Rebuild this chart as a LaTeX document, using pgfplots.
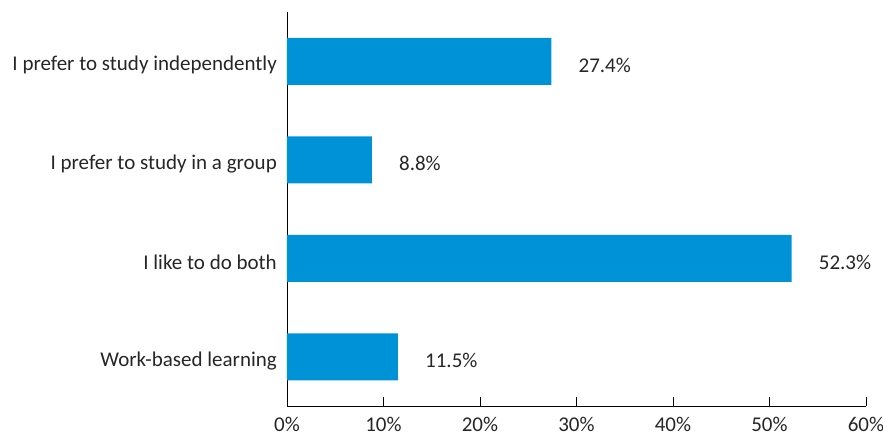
\documentclass[border=0pt]{standalone}
\usepackage{pgfplots}
\pgfplotsset{compat=1.18}
\usepackage{fontspec}
\setmainfont{Carlito}
\definecolor{barblue}{RGB}{0,146,214}
\definecolor{txt}{RGB}{38,38,38}
\begin{document}
\fontsize{21}{25}\selectfont
\begin{tikzpicture}
\useasboundingbox (-287pt,-29pt) rectangle (596pt,406pt);
\begin{axis}[
  scale only axis,
  width=579pt, height=394pt,
  xmin=0, xmax=60,
  ymin=-0.5, ymax=3.5,
  y dir=reverse,
  axis x line*=bottom,
  axis y line*=left,
  xtick={0,10,20,30,40,50,60},
  xticklabel={\pgfmathprintnumber{\tick}\%},
  ytick={0,1,2,3},
  yticklabels={I prefer to study independently, I prefer to study in a group, I like to do both, Work-based learning},
  major tick length=9pt,
  ytick style={draw=none},
  tick align=inside,
  axis line style={black, line width=0.9pt},
  xtick style={black, line width=0.9pt},
  /pgf/number format/assume math mode=true,
  tick label style={font=\fontsize{21}{25}\selectfont, text=txt},
  yticklabel style={xshift=6pt, yshift=-4pt},
  xticklabel style={yshift=-4pt},
  xbar,
  bar width=47pt,
  nodes near coords={\pgfmathprintnumber[fixed,precision=1,fixed zerofill]{\pgfplotspointmeta}\%},
  nodes near coords style={anchor=west, xshift=20pt, yshift=-4pt, font=\fontsize{21}{25}\selectfont, text=txt},
  point meta=explicit,
  clip=false,
]
\addplot[fill=barblue, draw=none] coordinates {
  (27.4,0) [27.4]
  (8.8,1) [8.8]
  (52.3,2) [52.3]
  (11.5,3) [11.5]
};
\end{axis}
\end{tikzpicture}
\end{document}
